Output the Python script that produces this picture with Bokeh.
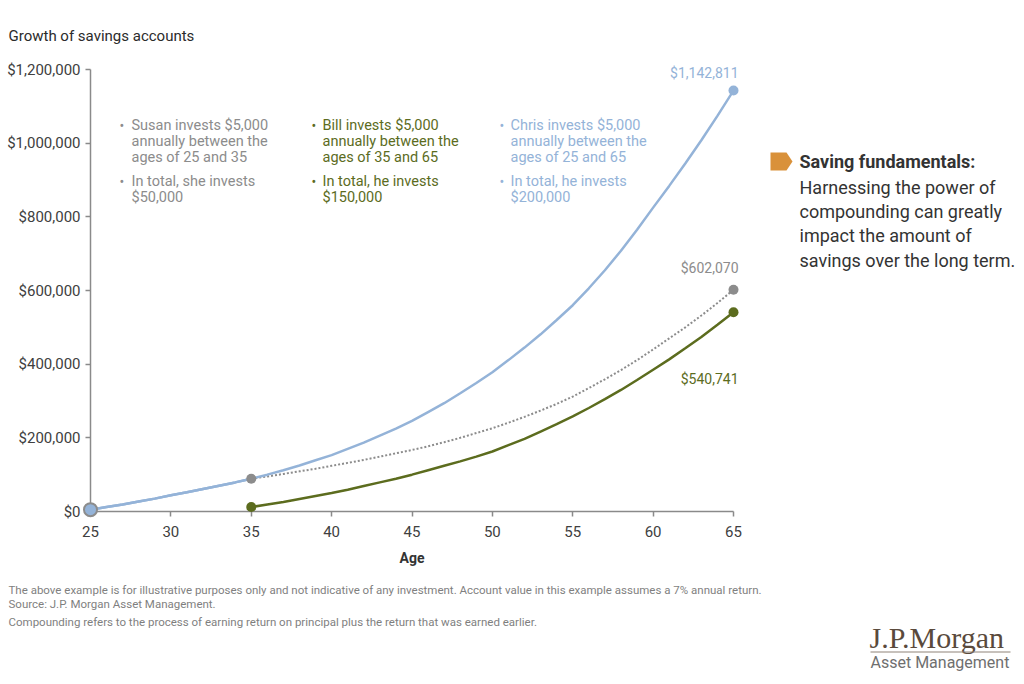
from bokeh.plotting import figure
from bokeh.models import Range1d, FixedTicker, NumeralTickFormatter
from bokeh.core.properties import value
from bokeh.embed import file_html
from bokeh.resources import INLINE

# ---------------- data ----------------
ages = list(range(25, 66))
chris = [5000, 12000, 19000, 27000, 35000, 44000, 52000, 61000, 70000, 79000, 89000,
         100000, 112000, 125000, 139000, 153000, 170000, 187000, 206000, 225000, 246000,
         270000, 294000, 321000, 349000, 378000, 411000, 445000, 481000, 520000, 560000,
         606000, 655000, 708000, 765000, 825000, 884000, 945000, 1008000, 1074000, 1142811]
susan = [5000, 12000, 19000, 27000, 35000, 44000, 52000, 61000, 70000, 79000, 89000,
         95000, 102000, 109000, 116000, 124000, 132000, 140000, 149000, 158000, 167000,
         177000, 188000, 200000, 213000, 226000, 241000, 257000, 274000, 292000, 312000,
         335000, 359000, 384000, 411000, 440000, 470000, 500000, 532000, 566000, 602070]
bill_ages = list(range(35, 66))
bill = [12000, 19000, 26000, 34000, 42000, 50000, 59000, 69000, 79000, 89000, 100000,
        112000, 124000, 136000, 149000, 163000, 180000, 197000, 217000, 237000, 258000,
        281000, 305000, 330000, 357000, 385000, 413000, 443000, 474000, 507000, 540741]
x_ticks = [25, 30, 35, 40, 45, 50, 55, 60, 65]
y_ticks = [0, 200000, 400000, 600000, 800000, 1000000, 1200000]

susan_stop = 35  # Susan stops investing at 35

# ---------------- styles ----------------
BLUE = "#94b3d8"
GRAY = "#8c8c8c"
OLIVE = "#5c6c1e"
ORANGE = "#d9913a"
DARK = "#333333"
FONT = "Roboto"

W, H = 1024, 684
FL, FR, FT, FB = 90, 733, 69, 511  # frame edges in page pixels

p = figure(width=W, height=H, x_range=Range1d(25, 65), y_range=Range1d(0, 1200000),
           output_backend="svg", toolbar_location=None,
           min_border_left=FL, min_border_right=W - FR, min_border_top=FT,
           min_border_bottom=H - FB, outline_line_color=None,
           background_fill_color="white", border_fill_color="white")

# page pixel -> data coords, used only for placing texts and decorations
def fx(X):
    return 25 + (X - FL) * 40.0 / (FR - FL)

def fy(Y):
    return (FB - Y) * 1200000.0 / (FB - FT)

p.grid.visible = False
for ax in (p.xaxis[0], p.yaxis[0]):
    ax.axis_line_color = "#8a8a8a"
    ax.axis_line_width = 1.5
    ax.major_tick_line_color = "#8a8a8a"
    ax.major_tick_line_width = 1.5
    ax.major_tick_out = 5
    ax.major_tick_in = 0
    ax.minor_tick_line_color = None
    ax.major_label_text_font = FONT
    ax.major_label_text_font_size = "15px"
    ax.major_label_text_color = "#404040"

p.xaxis.ticker = FixedTicker(ticks=x_ticks)
p.yaxis.ticker = FixedTicker(ticks=y_ticks)
p.yaxis.formatter = NumeralTickFormatter(format="$0,0")
p.xaxis.major_label_standoff = 9
p.yaxis.major_label_standoff = 5
p.xaxis.axis_label = "Age"
p.xaxis.axis_label_text_font = FONT
p.xaxis.axis_label_text_font_size = "14px"
p.xaxis.axis_label_text_font_style = "bold"
p.xaxis.axis_label_text_color = DARK
p.xaxis.axis_label_standoff = 10

# ---------------- lines ----------------
i35 = ages.index(susan_stop)
p.line(ages[:i35 + 1], susan[:i35 + 1], line_color=BLUE, line_width=2.5)
p.line(ages[i35:], susan[i35:], line_color=GRAY, line_width=2, line_dash="2 2")
p.line(bill_ages, bill, line_color=OLIVE, line_width=2.5)
p.line(ages, chris, line_color=BLUE, line_width=2.5)

# ---------------- points ----------------
p.scatter([ages[0]], [chris[0]], size=13, fill_color=BLUE, line_color=GRAY,
          line_width=2, level="overlay")
p.scatter([ages[i35]], [susan[i35]], size=10, fill_color=GRAY, line_color=None, level="overlay")
p.scatter([ages[-1]], [susan[-1]], size=10, fill_color=GRAY, line_color=None, level="overlay")
p.scatter([bill_ages[0]], [bill[0]], size=10, fill_color=OLIVE, line_color=None, level="overlay")
p.scatter([bill_ages[-1]], [bill[-1]], size=10, fill_color=OLIVE, line_color=None, level="overlay")
p.scatter([ages[-1]], [chris[-1]], size=10, fill_color=BLUE, line_color=None, level="overlay")

# ---------------- texts ----------------
def txt(s, X, Y, color=DARK, size=14, style="normal", align="left", font=FONT):
    p.text(x=[fx(X)], y=[fy(Y)], text=[s], text_color=color,
           text_font=value(font), text_font_size=f"{size}px",
           text_font_style=style, text_align=align,
           text_baseline="middle", level="overlay")

txt("Growth of savings accounts", 8, 35, color="#2b2b2b", size=15)

def block(lines, X, Y, dy, color, size):
    for k, s in enumerate(lines):
        txt(s, X, Y + k * dy, color=color, size=size)

# Susan
txt("•", 119, 125, color=GRAY, size=14)
block(["Susan invests $5,000", "annually between the", "ages of 25 and 35"], 131, 125, 16.2, GRAY, 14.5)
txt("•", 119, 181, color=GRAY, size=14)
block(["In total, she invests", "$50,000"], 131, 181, 16, GRAY, 14.5)
# Bill
txt("•", 311, 125, color=OLIVE, size=14)
block(["Bill invests $5,000", "annually between the", "ages of 35 and 65"], 322, 125, 16.2, OLIVE, 14.5)
txt("•", 311, 181, color=OLIVE, size=14)
block(["In total, he invests", "$150,000"], 322, 181, 16, OLIVE, 14.5)
# Chris
txt("•", 499, 125, color=BLUE, size=14)
block(["Chris invests $5,000", "annually between the", "ages of 25 and 65"], 510, 125, 16.2, BLUE, 14.5)
txt("•", 499, 181, color=BLUE, size=14)
block(["In total, he invests", "$200,000"], 510, 181, 16, BLUE, 14.5)

# end value labels
txt(f"${chris[-1]:,.0f}", 738, 72, color=BLUE, size=14, align="right")
txt(f"${susan[-1]:,.0f}", 738, 267, color=GRAY, size=14, align="right")
txt(f"${bill[-1]:,.0f}", 738, 378, color=OLIVE, size=14, align="right")

# side note
px_marker = [770, 786, 792, 786, 770]
py_marker = [152, 152, 161, 170, 170]
p.patch([fx(v) for v in px_marker], [fy(v) for v in py_marker],
        fill_color=ORANGE, line_color=None, level="overlay")
txt("Saving fundamentals:", 799, 161, color=DARK, size=18, style="bold")
block(["Harnessing the power of", "compounding can greatly", "impact the amount of",
       "savings over the long term."], 799, 187, 24.2, DARK, 18)

# footnotes
FN = "#7f7f7f"
txt("The above example is for illustrative purposes only and not indicative of any investment. "
    "Account value in this example assumes a 7% annual return.", 8, 589, color=FN, size=11.5)
txt("Source: J.P. Morgan Asset Management.", 8, 603, color=FN, size=11.5)
txt("Compounding refers to the process of earning return on principal plus the return that was earned earlier.",
    8, 621, color=FN, size=11.5)

# logo
txt("J.P.Morgan", 869, 637, color="#5a4a3c", size=30, font="Liberation Serif")
p.segment(x0=[fx(870)], y0=[fy(651.5)], x1=[fx(1010)], y1=[fy(651.5)],
          line_color="#8f8378", line_width=1, level="overlay")
txt("Asset Management", 870, 662, color="#6f6f6f", size=16)

open("out.html", "w").write(file_html(p, INLINE))
